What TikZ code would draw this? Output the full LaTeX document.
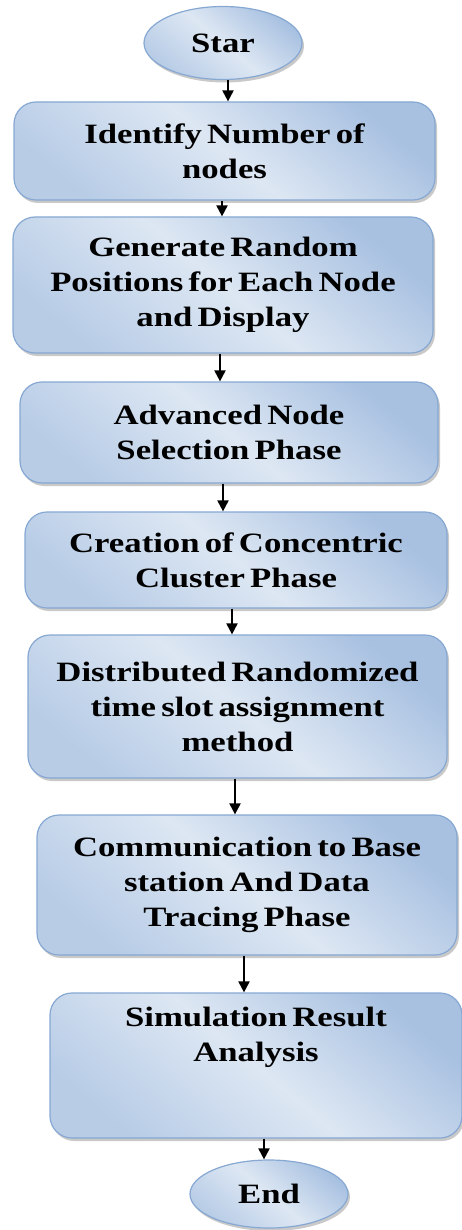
\documentclass[tikz,border=0pt]{standalone}
\usepackage{fontspec}
\newfontfamily\boxfont{Liberation Serif}[FakeStretch=1.24,WordSpace=0.6]
\usepackage{tikz}
\usetikzlibrary{shapes.geometric,shadows,arrows.meta}

\definecolor{boxlight}{HTML}{DDE7F3}
\definecolor{boxdark}{HTML}{A8C1E1}
\definecolor{boxline}{HTML}{86A8D2}

\tikzset{
    flowbase/.style={draw=boxline, line width=1.2pt,
        top color=boxdark, bottom color=boxdark!70!boxlight, middle color=boxlight,
        shading angle=-40,
        drop shadow={shadow xshift=2pt, shadow yshift=-3pt, opacity=0.3, fill=black!70},
        font=\boxfont\bfseries\fontsize{28}{35}\selectfont, align=center, inner sep=0pt},
    terminal/.style={flowbase, ellipse},
    procbox/.style={flowbase, rectangle, rounded corners=22pt},
    txt/.style={font=\boxfont\bfseries\fontsize{28}{35}\selectfont, align=center, inner sep=0pt},
    flowarrow/.style={line width=2pt, -{Triangle[length=11pt,width=11pt]}}
}

\begin{document}
\begin{tikzpicture}[x=1pt,y=-1pt]
    \useasboundingbox (0,0) rectangle (462,1230);
    % Start and steps
    \node[terminal, minimum width=158pt, minimum height=73pt] (start) at (223,43) {Star};
    \node[procbox, minimum width=421pt, minimum height=98pt] (ident) at (224.5,151) {Identify Number of\\nodes};
    \node[procbox, minimum width=420pt, minimum height=136pt] (gen) at (223,285) {Generate Random\\Positions for Each Node\\and Display};
    \node[procbox, minimum width=418pt, minimum height=101pt] (adv) at (229,432.5) {Advanced Node\\Selection Phase};
    \node[procbox, minimum width=422pt, minimum height=96pt] (conc) at (236,560) {Creation of Concentric\\Cluster Phase};
    \node[procbox, minimum width=419pt, minimum height=143pt] (dist) at (237.5,706.5) {Distributed Randomized\\time slot assignment\\method};
    \node[procbox, minimum width=420pt, minimum height=140pt] (comm) at (247,885) {Communication to Base\\station And Data\\Tracing Phase};
    \node[procbox, minimum width=412pt, minimum height=145pt] (sim) at (256,1065.5) {};
    \node[txt, anchor=north] (simtext) at ([yshift=-14pt]sim.north) {Simulation Result\\Analysis};
    % End
    \node[terminal, minimum width=158pt, minimum height=68pt] (end) at (269,1194) {End};

    \foreach \a/\b/\x in {start/ident/228, ident/gen/222, gen/adv/220, adv/conc/223,
                          conc/dist/232, dist/comm/235, comm/sim/244, sim/end/264}
        \draw[flowarrow] (\x,0 |- \a.south) -- (\x,0 |- \b.north);
\end{tikzpicture}
\end{document}
